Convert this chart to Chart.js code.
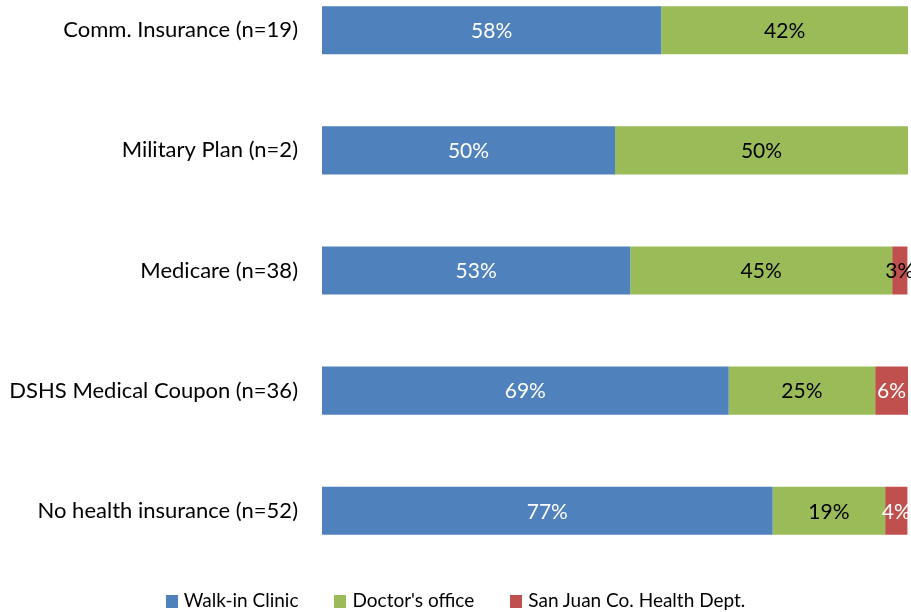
<!DOCTYPE html>
<html lang="en">
<head>
  <meta charset="UTF-8">
  <title>Usual place of care by insurance</title>
  <style>
    body {
      margin: 0;
      padding: 0;
      background: #fff;
      overflow: hidden;
      font-family: Lato, "Noto Sans", sans-serif;
    }
    #wrap {
      position: absolute;
      left: 0;
      top: -59px;
      width: 911px;
      height: 659px;
    }
    #legend {
      position: absolute;
      left: 0;
      width: 911px;
      top: 588px;
      display: flex;
      justify-content: center;
      gap: 36px;
      font-size: 19px;
      line-height: 24px;
      color: #000;
      padding-left: 0;
    }
    #legend span.box {
      display: inline-block;
      width: 12px;
      height: 13px;
      margin-right: 6px;
      vertical-align: -1px;
    }
  </style>
</head>
<body>
  <div id="wrap"><canvas id="chart" width="911" height="659"></canvas></div>
  <div id="legend"></div>

  <script src="https://cdn.jsdelivr.net/npm/chart.js"></script>
  <script>
    // values (percent of each group)
    const categories = [
      'Comm. Insurance (n=19)',
      'Military Plan (n=2)',
      'Medicare (n=38)',
      'DSHS Medical Coupon (n=36)',
      'No health insurance (n=52)'
    ];
    const walkIn = [57.9, 50, 52.6, 69.4, 76.9];
    const doctor = [42.1, 50, 44.7, 25, 19.2];
    const healthDept = [0, 0, 2.6, 5.6, 3.8];

    const FONT = 'Lato, "Noto Sans", sans-serif';

    // draws the % label in the middle of each segment
    const barLabels = {
      id: 'barLabels',
      afterDatasetsDraw(chart) {
        const ctx = chart.ctx;
        ctx.save();
        ctx.font = '21px ' + FONT;
        ctx.textAlign = 'center';
        ctx.textBaseline = 'middle';
        chart.data.datasets.forEach((ds, di) => {
          const meta = chart.getDatasetMeta(di);
          meta.data.forEach((bar, i) => {
            const v = ds.data[i];
            if (!v) return;
            let color = ds.labelColor;
            if (di === 2 && v < 3) color = '#000';
            ctx.fillStyle = color;
            ctx.fillText(Math.round(v) + '%', (bar.x + bar.base) / 2, bar.y + 1);
          });
        });
        ctx.restore();
      }
    };

    const chart = new Chart(document.getElementById('chart'), {
      type: 'bar',
      data: {
        labels: categories,
        datasets: [
          { label: 'Walk-in Clinic', data: walkIn, backgroundColor: '#4F81BD', labelColor: '#fff' },
          { label: "Doctor's office", data: doctor, backgroundColor: '#9BBB59', labelColor: '#000' },
          { label: 'San Juan Co. Health Dept.', data: healthDept, backgroundColor: '#C0504D', labelColor: '#fff' }
        ]
      },
      options: {
        indexAxis: 'y',
        responsive: false,
        animation: false,
        datasets: {
          bar: { barPercentage: 0.4, categoryPercentage: 1, borderWidth: 0 }
        },
        layout: {
          padding: { left: 0, right: 3, top: 0, bottom: 5 }
        },
        scales: {
          x: {
            stacked: true,
            display: false,
            min: 0,
            max: 100
          },
          y: {
            stacked: true,
            grid: { display: false },
            border: { display: false },
            ticks: {
              color: '#000',
              padding: 16,
              font: { family: FONT, size: 22 }
            },
            afterFit(scale) { scale.width = 322; }
          }
        },
        plugins: {
          legend: { display: false },
          tooltip: { enabled: false }
        }
      },
      plugins: [barLabels]
    });

    // legend built from the chart's own datasets
    const legend = document.getElementById('legend');
    chart.data.datasets.forEach(ds => {
      const item = document.createElement('div');
      const box = document.createElement('span');
      box.className = 'box';
      box.style.background = ds.backgroundColor;
      item.appendChild(box);
      item.appendChild(document.createTextNode(ds.label));
      legend.appendChild(item);
    });
  </script>
</body>
</html>
